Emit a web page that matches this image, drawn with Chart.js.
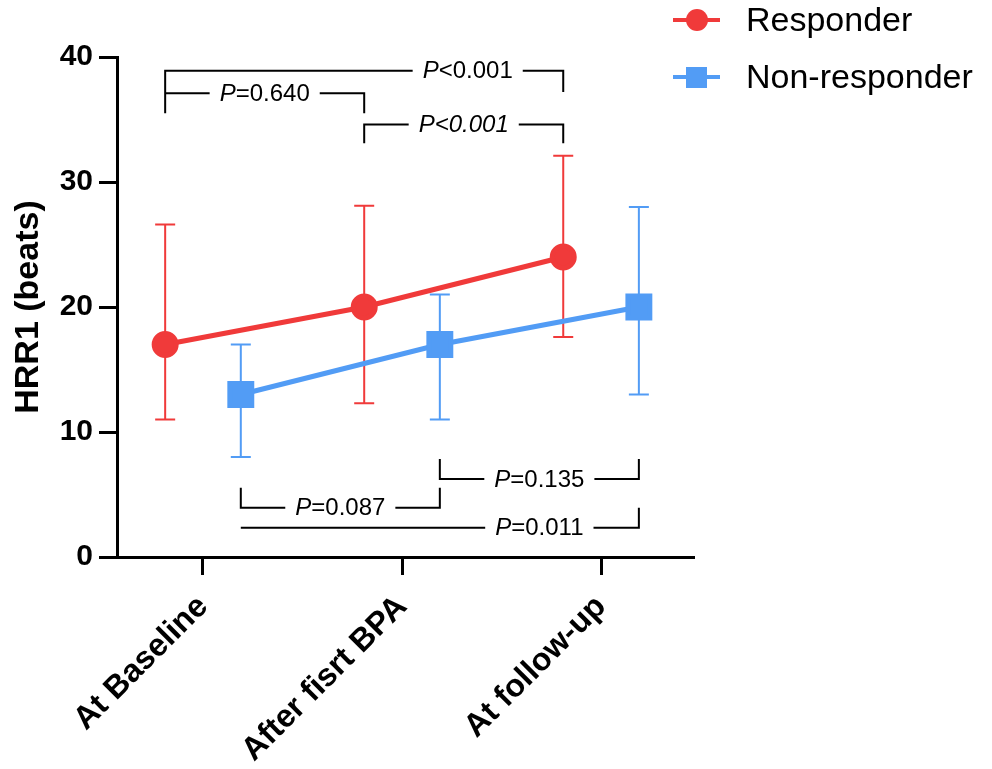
<!DOCTYPE html>
<html>
<head>
<meta charset="utf-8">
<script src="https://cdn.jsdelivr.net/npm/chart.js@4"></script>
<style>
  html, body { margin: 0; padding: 0; background: #fff; }
  #wrap { width: 992px; height: 769px; }
</style>
</head>
<body>
<div id="wrap"><canvas id="hrr"></canvas></div>
<script>
// data
var categories = ['At Baseline', 'After fisrt BPA', 'At follow-up'];
var responderMean = [17, 20, 24];
var responderLow = [11, 12.3, 17.6];
var responderHigh = [26.6, 28.1, 32.1];
var nonResponderMean = [13, 17, 20];
var nonResponderLow = [8, 11, 13];
var nonResponderHigh = [17, 21, 28];
var yTicks = [0, 10, 20, 30, 40];

// p-value labels for the comparison brackets
var pLabels = ['<0.001', '=0.640', '<0.001', '=0.135', '=0.087', '=0.011'];

var RED = 'rgb(240, 58, 58)';
var BLUE = 'rgb(82, 156, 245)';
var FONT = '"Liberation Sans", Arial, Helvetica, sans-serif';
var shift = 0.19; // side-by-side offset of the two groups

function pts(vals, dx) {
  return vals.map(function (v, i) { return { x: i + dx, y: v }; });
}

// bracket layout (in axis units): x1, x2, line level, end levels, text centre
var brackets = [
  { x1: -shift, x2: 2 - shift, y: 38.9, e1: 35.5, e2: 37.2, tx: 1.33, label: pLabels[0], allItalic: false },
  { x1: -shift, x2: 1 - shift, y: 37.1, e1: null, e2: 35.5, tx: 0.31, label: pLabels[1], allItalic: false },
  { x1: 1 - shift, x2: 2 - shift, y: 34.6, e1: 33.1, e2: 33.1, tx: 1.31, label: pLabels[2], allItalic: true },
  { x1: 1 + shift, x2: 2 + shift, y: 6.25, e1: 7.85, e2: 7.85, tx: 1.69, label: pLabels[3], allItalic: false },
  { x1: shift, x2: 1 + shift, y: 3.95, e1: 5.55, e2: 5.55, tx: 0.69, label: pLabels[4], allItalic: false },
  { x1: shift, x2: 2 + shift, y: 2.35, e1: null, e2: 3.95, tx: 1.69, label: pLabels[5], allItalic: false }
];

var errorBars = {
  id: 'errorBars',
  beforeDatasetsDraw: function (chart) {
    var ctx = chart.ctx, xs = chart.scales.x, ys = chart.scales.y;
    var sets = [
      { lo: responderLow, hi: responderHigh, dx: -shift, c: RED },
      { lo: nonResponderLow, hi: nonResponderHigh, dx: shift, c: BLUE }
    ];
    ctx.save();
    ctx.lineWidth = 2;
    sets.forEach(function (s) {
      ctx.strokeStyle = s.c;
      s.lo.forEach(function (lo, i) {
        var x = xs.getPixelForValue(i + s.dx);
        var y1 = ys.getPixelForValue(lo), y2 = ys.getPixelForValue(s.hi[i]);
        ctx.beginPath();
        ctx.moveTo(x, y1); ctx.lineTo(x, y2);
        ctx.moveTo(x - 10, y1); ctx.lineTo(x + 10, y1);
        ctx.moveTo(x - 10, y2); ctx.lineTo(x + 10, y2);
        ctx.stroke();
      });
    });
    ctx.restore();
  }
};

var pBrackets = {
  id: 'pBrackets',
  afterDatasetsDraw: function (chart) {
    var ctx = chart.ctx, xs = chart.scales.x, ys = chart.scales.y;
    ctx.save();
    ctx.lineWidth = 2;
    ctx.strokeStyle = '#000';
    ctx.fillStyle = '#000';
    ctx.textBaseline = 'middle';
    var size = 24;
    brackets.forEach(function (b) {
      var x1 = xs.getPixelForValue(b.x1), x2 = xs.getPixelForValue(b.x2);
      var y = ys.getPixelForValue(b.y), tx = xs.getPixelForValue(b.tx);
      ctx.font = 'italic ' + size + 'px ' + FONT;
      var wP = ctx.measureText('P').width;
      ctx.font = (b.allItalic ? 'italic ' : '') + size + 'px ' + FONT;
      var wR = ctx.measureText(b.label).width;
      var w = wP + wR;
      var left = tx - w / 2, right = tx + w / 2;
      ctx.beginPath();
      if (b.e1 !== null) { ctx.moveTo(x1, ys.getPixelForValue(b.e1)); ctx.lineTo(x1, y); }
      else ctx.moveTo(x1, y);
      ctx.lineTo(left - 10, y);
      ctx.moveTo(right + 10, y);
      ctx.lineTo(x2, y);
      if (b.e2 !== null) ctx.lineTo(x2, ys.getPixelForValue(b.e2));
      ctx.stroke();
      ctx.textAlign = 'left';
      ctx.font = 'italic ' + size + 'px ' + FONT;
      ctx.fillText('P', left, y + 1);
      ctx.font = (b.allItalic ? 'italic ' : '') + size + 'px ' + FONT;
      ctx.fillText(b.label, left + wP, y + 1);
    });
    ctx.restore();
  }
};

var sideLegend = {
  id: 'sideLegend',
  afterDraw: function (chart) {
    var ctx = chart.ctx;
    ctx.save();
    chart.data.datasets.forEach(function (ds, i) {
      var y = 20 + i * 57;
      ctx.strokeStyle = ds.borderColor;
      ctx.fillStyle = ds.backgroundColor;
      ctx.lineWidth = 4;
      ctx.beginPath();
      ctx.moveTo(673, y); ctx.lineTo(720, y);
      ctx.stroke();
      if (ds.pointStyle === 'rect') {
        ctx.fillRect(686, y - 10, 21, 21);
      } else {
        ctx.beginPath();
        ctx.arc(697, y, 11, 0, Math.PI * 2);
        ctx.fill();
      }
      ctx.fillStyle = '#000';
      ctx.font = '34px ' + FONT;
      ctx.textAlign = 'left';
      ctx.textBaseline = 'middle';
      ctx.fillText(ds.label, 746, y + 2);
    });
    ctx.restore();
  }
};

new Chart(document.getElementById('hrr'), {
  type: 'scatter',
  data: {
    datasets: [{
      label: 'Responder',
      data: pts(responderMean, -shift),
      showLine: true,
      borderColor: RED,
      backgroundColor: RED,
      borderWidth: 5,
      pointStyle: 'circle',
      pointRadius: 11,
      pointHoverRadius: 11
    }, {
      label: 'Non-responder',
      data: pts(nonResponderMean, shift),
      showLine: true,
      borderColor: BLUE,
      backgroundColor: BLUE,
      borderWidth: 5,
      pointStyle: 'rect',
      pointRadius: 15.5,
      pointHoverRadius: 15.5
    }]
  },
  options: {
    responsive: true,
    maintainAspectRatio: false,
    animation: false,
    layout: { padding: { left: 0, top: 57, right: 298, bottom: 0 } },
    plugins: { legend: { display: false }, tooltip: { enabled: false } },
    scales: {
      x: {
        type: 'linear',
        min: -0.432,
        max: 2.467,
        afterBuildTicks: function (scale) {
          scale.ticks = categories.map(function (c, i) { return { value: i }; });
        },
        afterFit: function (scale) { scale.height = 212; },
        border: { color: '#000', width: 3 },
        grid: { drawOnChartArea: false, drawTicks: true, tickLength: 18, tickWidth: 3, tickColor: '#000' },
        ticks: {
          autoSkip: false,
          minRotation: 45,
          maxRotation: 45,
          padding: 13,
          color: '#000',
          font: { family: FONT, size: 32, weight: 'bold' },
          callback: function (v) { return categories[v]; }
        }
      },
      y: {
        min: 0,
        max: 40,
        afterBuildTicks: function (scale) {
          scale.ticks = yTicks.map(function (v) { return { value: v }; });
        },
        afterFit: function (scale) { scale.width = 117; },
        border: { color: '#000', width: 3 },
        grid: { drawOnChartArea: false, drawTicks: true, tickLength: 18, tickWidth: 3, tickColor: '#000' },
        ticks: {
          padding: 6,
          color: '#000',
          font: { family: FONT, size: 30, weight: 'bold' }
        },
        title: {
          display: true,
          text: 'HRR1 (beats)',
          color: '#000',
          padding: { top: 8, bottom: 0 },
          font: { family: FONT, size: 34, weight: 'bold' }
        }
      }
    }
  },
  plugins: [errorBars, pBrackets, sideLegend]
});
</script>
</body>
</html>
